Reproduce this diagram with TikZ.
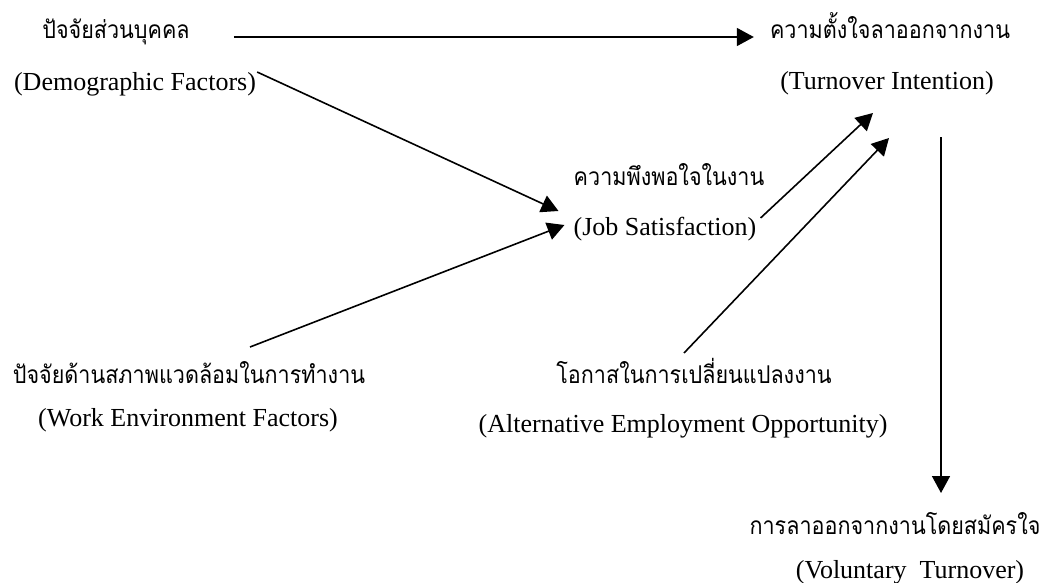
\documentclass[tikz,border=0pt]{standalone}
\usepackage{fontspec}
\setmainfont{Liberation Serif}
\newfontfamily\thaifont[Script=Thai,FakeStretch=0.88]{Loma}
\usetikzlibrary{arrows.meta}
\begin{document}
\begin{tikzpicture}[x=1pt,y=-1pt]
\tikzstyle{en}=[inner sep=0pt,anchor=base,font=\fontsize{26}{30}\selectfont]
\tikzstyle{th}=[inner sep=0pt,anchor=base,font=\thaifont\fontsize{24.5}{28}\selectfont]
\tikzstyle{arr}=[-{Triangle[length=17pt,width=18pt]},line width=1.6pt]
\useasboundingbox (0,0) rectangle (1043,582);
\node[th] (demoTH) at (116,38) {ปัจจัยส่วนบุคคล};
\node[en] (demoEN) at (135,90) {(Demographic Factors)};
\node[th] (turnTH) at (890,38) {ความตั้งใจลาออกจากงาน};
\node[en] (turnEN) at (887,89) {(Turnover Intention)};
\node[th] (jobTH) at (669,185) {ความพึงพอใจในงาน};
\node[en] (jobEN) at (665,235) {(Job Satisfaction)};
\node[th] (workTH) at (189,383) {ปัจจัยด้านสภาพแวดล้อมในการทำงาน};
\node[en] (workEN) at (188,426) {(Work Environment Factors)};
\node[th] (altTH) at (694,383) {โอกาสในการเปลี่ยนแปลงงาน};
\node[en] (altEN) at (683,432) {(Alternative Employment Opportunity)};
\node[th] (volTH) at (895,534) {การลาออกจากงานโดยสมัครใจ};
\node[en] (volEN) at (910,578) {(Voluntary\ \ Turnover)};
\draw[arr] ([xshift=44pt,yshift=1pt]demoTH.base east) -- ([xshift=-16pt,yshift=1pt]turnTH.base west);
\draw[arr] ([xshift=1pt,yshift=18pt]demoEN.base east) -- ([xshift=-15pt,yshift=24pt]jobEN.base west);
\draw[arr] ([xshift=61pt,yshift=36pt]workTH.base) -- ([xshift=-9pt,yshift=10pt]jobEN.base west);
\draw[arr] ([xshift=4pt,yshift=17pt]jobEN.base east) -- ([xshift=-14pt,yshift=-24pt]turnEN.base);
\draw[arr] ([xshift=-10pt,yshift=30pt]altTH.base) -- ([xshift=2pt,yshift=-49pt]turnEN.base);
\draw[arr] ([xshift=54pt,yshift=-48pt]turnEN.base) -- ([xshift=46pt,yshift=41pt]volTH.base);
\end{tikzpicture}
\end{document}
